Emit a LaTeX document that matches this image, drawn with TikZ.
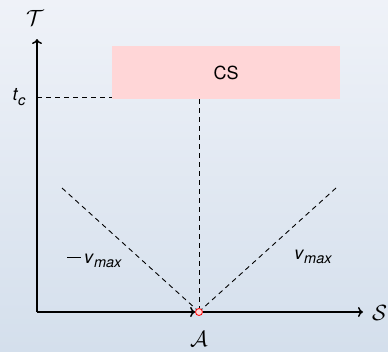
\documentclass[tikz,border=0pt]{standalone}
\usepackage{fix-cm}
\usepackage{fontspec}
\setmainfont{TeX Gyre Heros}
\usetikzlibrary{arrows.meta}
\definecolor{bgtop}{HTML}{EFF2F8}
\definecolor{bgbot}{HTML}{D4DFEC}
\definecolor{csfill}{HTML}{FFD6D7}
\newcommand{\mysub}[1]{\raisebox{-4.5pt}{\fontsize{14.5}{16}\selectfont\itshape #1}}
\newcommand{\myminus}{\rule[5.5pt]{14pt}{1.2pt}\hspace{3pt}}
\begin{document}
\begin{tikzpicture}[x=1pt,y=-1pt,
  axis/.style={line width=1.5pt,-{To[length=5pt,width=10pt]}},
  dashline/.style={line width=0.9pt,dash pattern=on 5pt off 4pt},
  lbl/.style={font=\fontsize{18}{20}\selectfont,inner sep=0pt},
  cal/.style={font=\fontsize{22}{24}\selectfont,inner sep=0pt}]
\shade[top color=bgtop,bottom color=bgbot] (0,0) rectangle (388,351);
\useasboundingbox (0,0) rectangle (388,351);
\coordinate (O) at (37,312);
\coordinate (Ytip) at (37,39);
\coordinate (Xtip) at (363,312);
\coordinate (Tc) at (37,97);
\coordinate (L) at (62,188);
\coordinate (R) at (336,188);
\node[fill=csfill,minimum width=228pt,minimum height=53pt,inner sep=0pt,anchor=north west,lbl] (cs) at (112,46) {CS};
\coordinate (csb) at (199,99);
\node[circle,draw=red,fill=csfill,line width=0.8pt,minimum size=7pt,inner sep=0pt] (A) at (199,312) {};
\draw[dashline] (Tc) -- (cs.west |- Tc);
\draw[dashline] (csb) -- (A.north);
\draw[dashline] (L) -- (A.north west);
\draw[dashline] (R) -- (A.north east);
\draw[axis] (O) -- (Ytip);
\draw[axis] (O) -- (A.west);
\draw[axis] (A.east) -- (Xtip);
\node[cal] (Tl) at (35,18) {$\mathcal{T}$};
\node[cal,anchor=west] (Sl) at (372,313) {$\mathcal{S}$};
\node[cal] (Al) at (199,339) {$\mathcal{A}$};
\node[lbl] (tcl) at (19,97) {\textit{t}\mysub{c}};
\node[lbl,anchor=west] (vl) at (67,261) {\myminus\textit{v}\mysub{max}};
\node[lbl] (vr) at (313,257) {\textit{v}\mysub{max}};
\end{tikzpicture}
\end{document}
